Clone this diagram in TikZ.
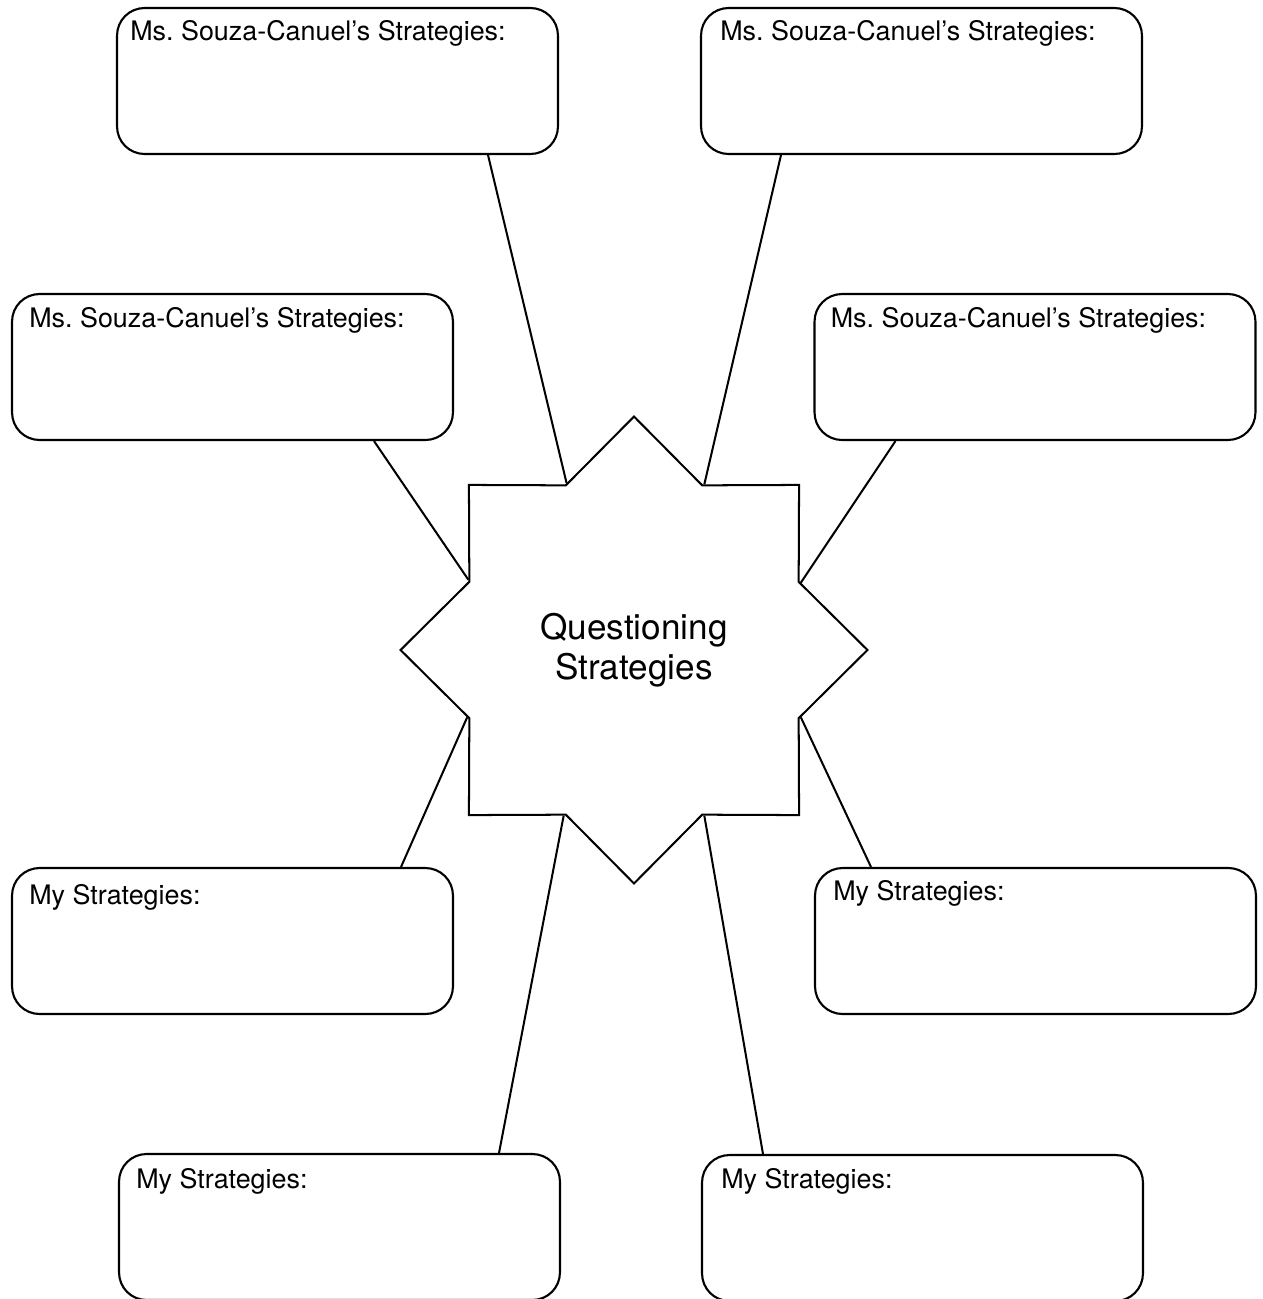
\documentclass[tikz,border=0pt]{standalone}
\usepackage{fontspec}
\setmainfont{TeX Gyre Heros}
\usetikzlibrary{shapes.geometric}
\tikzset{
    card/.style={draw, line width=1.2pt, rounded corners=0.55cm,
        minimum width=8.82cm, minimum height=2.92cm, inner sep=0pt},
    cardtext/.style={anchor=base west, inner sep=0pt,
        font=\fontsize{15.3}{18}\selectfont},
    spoke/.style={line width=1.15pt},
}
\begin{document}
\begin{tikzpicture}[x=0.02cm, y=-0.02cm]
    \useasboundingbox (0, 0) rectangle (1263, 1299);
        % centre star
        \node[draw, star, star points=8, star point ratio=1.31, minimum size=9.34cm,
            line width=1.15pt, inner sep=0pt, align=center,
            font=\fontsize{20}{22.8}\selectfont] (qs) at (634, 650) {Questioning\\Strategies};
        % teacher boxes
        \node[card] (ms1) at (337.5, 81) {};
        \node[card] (ms2) at (921.5, 81) {};
        \node[card] (ms3) at (232.5, 367) {};
        \node[card] (ms4) at (1035, 367) {};
        % own boxes
        \node[card] (my1) at (232.5, 941) {};
        \node[card] (my2) at (1035.5, 941) {};
        \node[card] (my3) at (339.5, 1227) {};
        \node[card] (my4) at (922.5, 1228) {};
        \node[cardtext] (ms1t) at ([shift={(14, 34)}]ms1.north west) {Ms.\ Souza-Canuel’s Strategies:};
        \node[cardtext] (ms2t) at ([shift={(20, 34)}]ms2.north west) {Ms.\ Souza-Canuel’s Strategies:};
        \node[cardtext] (ms3t) at ([shift={(18, 35)}]ms3.north west) {Ms.\ Souza-Canuel’s Strategies:};
        \node[cardtext] (ms4t) at ([shift={(17, 35)}]ms4.north west) {Ms.\ Souza-Canuel’s Strategies:};
        \node[cardtext] (my1t) at ([shift={(18, 38)}]my1.north west) {My Strategies:};
        \node[cardtext] (my2t) at ([shift={(19, 34)}]my2.north west) {My Strategies:};
        \node[cardtext] (my3t) at ([shift={(18, 36)}]my3.north west) {My Strategies:};
        \node[cardtext] (my4t) at ([shift={(20, 35)}]my4.north west) {My Strategies:};
        % spokes from the inner corners of the star
        \draw[spoke] (qs.112.5) to ([shift={(-71, 0)}]ms1.south east);
        \draw[spoke] (qs.67.5) to ([shift={(81, 0)}]ms2.south west);
        \draw[spoke] (qs.157.5) to ([shift={(-80, 0)}]ms3.south east);
        \draw[spoke] (qs.22.5) to ([shift={(82, 0)}]ms4.south west);
        \draw[spoke] (qs.202.5) to ([shift={(-53, 0)}]my1.north east);
        \draw[spoke] (qs.-22.5) to ([shift={(57, 0)}]my2.north west);
        \draw[spoke] (qs.247.5) to ([shift={(-62, 0)}]my3.north east);
        \draw[spoke] (qs.-67.5) to ([shift={(62, 0)}]my4.north west);
    \end{tikzpicture}
\end{document}
